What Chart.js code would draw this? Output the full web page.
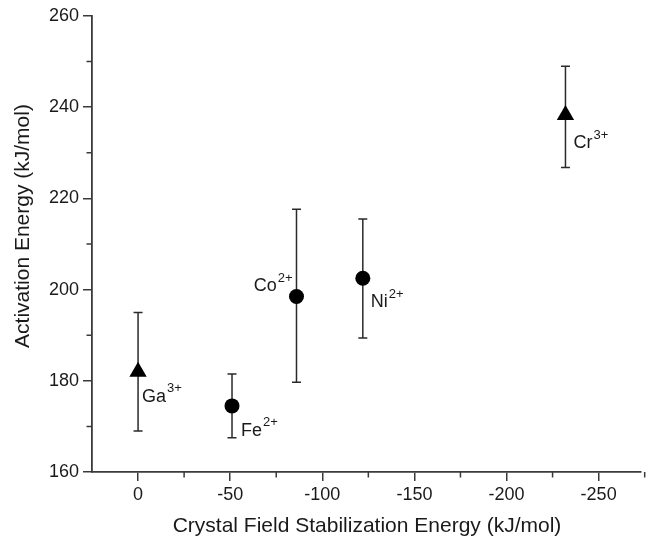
<!DOCTYPE html>
<html>
<head>
<meta charset="utf-8">
<script src="https://cdn.jsdelivr.net/npm/chart.js@4/dist/chart.umd.min.js"></script>
<style>
html,body{margin:0;padding:0;background:#fff;}
#wrap{width:651px;height:545px;position:relative;}
</style>
</head>
<body>
<div id="wrap"><canvas id="c" width="651" height="545"></canvas></div>
<script>
// ---- data ----
const ions = ['Ga', 'Fe', 'Co', 'Ni', 'Cr'];
const charges = ['3+', '2+', '2+', '2+', '3+'];
const cfse = [0, -51, -86, -122, -232];
const activationEnergy = [182, 174.5, 198.5, 202.5, 238.3];
const errLow = [169, 167.5, 179.7, 189.4, 226.8];
const errHigh = [195, 181.5, 217.6, 215.5, 249];
const markerShapes = ['triangle', 'circle', 'circle', 'circle', 'triangle'];
const xMajorTicks = [0, -50, -100, -150, -200, -250];
const xMinorTicks = [-25, -75, -125, -175, -225, -275];
const yMajorTicks = [160, 180, 200, 220, 240, 260];
const yMinorTicks = [170, 190, 210, 230, 250];
const xTitle = 'Crystal Field Stabilization Energy (kJ/mol)';
const yTitle = 'Activation Energy (kJ/mol)';

// label placement (offsets in px relative to the point)
const labelOffsets = [[4, 25, 'left'], [9, 25, 'left'], [-4, -10, 'right'], [8, 24, 'left'], [8, 28, 'left']];

const FONT = '"Liberation Sans", Arial, sans-serif';
const AXIS = '#3a3a3a';
const TEXT = '#1a1a1a';

const errorBars = {
  id: 'errorBars',
  beforeDatasetsDraw(chart) {
    const {ctx, scales: {x, y}} = chart;
    ctx.save();
    ctx.strokeStyle = '#2a2a2a';
    ctx.lineWidth = 1.5;
    const cap = 4.5;
    for (let i = 0; i < cfse.length; i++) {
      const px = x.getPixelForValue(cfse[i]);
      const yl = y.getPixelForValue(errLow[i]);
      const yh = y.getPixelForValue(errHigh[i]);
      ctx.beginPath();
      ctx.moveTo(px, yl); ctx.lineTo(px, yh);
      ctx.moveTo(px - cap, yl); ctx.lineTo(px + cap, yl);
      ctx.moveTo(px - cap, yh); ctx.lineTo(px + cap, yh);
      ctx.stroke();
    }
    ctx.restore();
  },
  afterDraw(chart) {
    const {ctx, scales: {x, y}} = chart;
    ctx.save();
    // minor ticks
    ctx.strokeStyle = AXIS;
    ctx.lineWidth = 1.5;
    ctx.beginPath();
    const yb = y.getPixelForValue(160);
    for (const v of xMinorTicks) {
      const p = x.getPixelForValue(v);
      if (p > chart.width) continue;
      ctx.moveTo(p, yb); ctx.lineTo(p, yb + 5.5);
    }
    const xl = x.left;
    for (const v of yMinorTicks) {
      const p = y.getPixelForValue(v);
      ctx.moveTo(xl, p); ctx.lineTo(xl - 5.5, p);
    }
    ctx.stroke();

    // point labels with superscripts
    ctx.fillStyle = TEXT;
    ctx.textBaseline = 'middle';
    for (let i = 0; i < ions.length; i++) {
      const px = x.getPixelForValue(cfse[i]);
      const py = y.getPixelForValue(activationEnergy[i]);
      const [dx, dy, align] = labelOffsets[i];
      ctx.font = '18px ' + FONT;
      const wBase = ctx.measureText(ions[i]).width;
      ctx.font = '13px ' + FONT;
      const wSup = ctx.measureText(charges[i]).width;
      let left = px + dx;
      if (align === 'right') left = px + dx - wBase - wSup - 1;
      ctx.textAlign = 'left';
      ctx.font = '18px ' + FONT;
      ctx.fillText(ions[i], left, py + dy);
      ctx.font = '13px ' + FONT;
      ctx.fillText(charges[i], left + wBase + 1, py + dy - 8);
    }

    // axis titles
    ctx.font = '21px ' + FONT;
    ctx.textAlign = 'center';
    ctx.textBaseline = 'middle';
    ctx.fillText(xTitle, 367, 526);
    ctx.save();
    ctx.translate(23, 226);
    ctx.rotate(-Math.PI / 2);
    ctx.fillText(yTitle, 0, 0);
    ctx.restore();
    ctx.restore();
  }
};

new Chart(document.getElementById('c'), {
  type: 'scatter',
  data: {
    datasets: [{
      data: cfse.map((v, i) => ({x: v, y: activationEnergy[i]})),
      pointStyle: markerShapes,
      pointRadius: markerShapes.map(s => s === 'triangle' ? 10 : 7.5),
      pointHoverRadius: markerShapes.map(s => s === 'triangle' ? 10 : 7.5),
      backgroundColor: '#000',
      borderColor: '#000',
      borderWidth: 0,
      showLine: false
    }]
  },
  options: {
    responsive: false,
    animation: false,
    events: [],
    layout: {padding: {top: 16, right: 0, left: 0, bottom: 0}},
    plugins: {legend: {display: false}, tooltip: {enabled: false}},
    scales: {
      x: {
        type: 'linear',
        reverse: true,
        min: -273,
        max: 25,
        afterBuildTicks: s => { s.ticks = xMajorTicks.map(v => ({value: v})); },
        afterFit: s => { s.height = 73; },
        grid: {display: true, drawOnChartArea: false, drawTicks: true, tickLength: 9, color: AXIS, lineWidth: 1.5},
        border: {display: true, color: AXIS, width: 1.8},
        ticks: {font: {family: FONT, size: 18}, color: TEXT, padding: 3, maxRotation: 0,
                callback: v => String(v)}
      },
      y: {
        type: 'linear',
        min: 160,
        max: 260,
        afterBuildTicks: s => { s.ticks = yMajorTicks.map(v => ({value: v})); },
        afterFit: s => { s.width = 92; },
        grid: {display: true, drawOnChartArea: false, drawTicks: true, tickLength: 9, color: AXIS, lineWidth: 1.5},
        border: {display: true, color: AXIS, width: 1.8},
        ticks: {font: {family: FONT, size: 18}, color: TEXT, padding: 4,
                callback: v => String(v)}
      }
    }
  },
  plugins: [errorBars]
});
</script>
</body>
</html>
